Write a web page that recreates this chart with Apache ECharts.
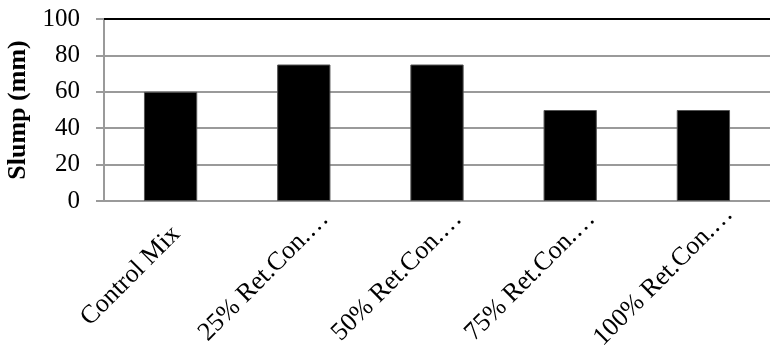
<!DOCTYPE html>
<html>
<head>
<meta charset="utf-8">
<script src="https://cdn.jsdelivr.net/npm/echarts@6/dist/echarts.min.js"></script>
<style>
  html, body { margin: 0; padding: 0; background: #fff; }
  #chart { width: 770px; height: 349px; }
</style>
</head>
<body>
<div id="chart"></div>
<script>
// Slump test results per mix
const categories = ['Control Mix', '25% Ret.Con.\u2026', '50% Ret.Con.\u2026', '75% Ret.Con.\u2026', '100% Ret.Con.\u2026'];
const slumpValues = [60, 75, 75, 50, 50];
const yTicks = { min: 0, max: 100, interval: 20 };

const fontFamily = '"Liberation Serif", "DejaVu Serif", serif';
const chart = echarts.init(document.getElementById('chart'));

chart.setOption({
  animation: false,
  grid: { left: 104, right: 0, top: 19, bottom: 148, containLabel: false, outerBoundsMode: 'none' },
  xAxis: {
    type: 'category',
    data: categories,
    axisLine: { show: true, lineStyle: { color: '#9a9a9a', width: 2 } },
    axisTick: { show: false },
    axisLabel: {
      rotate: 45,
      interval: 0,
      // labels are centred on a point below-left of each category
      align: 'center',
      verticalAlign: 'middle',
      padding: [0, 113, 0, 0],
      margin: 35,
      color: '#000',
      fontFamily: fontFamily,
      fontSize: 26
    }
  },
  yAxis: {
    type: 'value',
    min: yTicks.min,
    max: yTicks.max,
    interval: yTicks.interval,
    name: 'Slump (mm)',
    nameLocation: 'middle',
    nameGap: 71,
    nameTextStyle: { color: '#000', fontFamily: fontFamily, fontSize: 26, fontWeight: 'bold' },
    axisLine: { show: true, lineStyle: { color: '#9a9a9a', width: 2 } },
    axisTick: { show: true, inside: false, length: 8, lineStyle: { color: '#9a9a9a', width: 2 } },
    axisLabel: { color: '#000', fontFamily: fontFamily, fontSize: 25, margin: 24 },
    splitLine: { show: true, lineStyle: { color: '#9a9a9a', width: 2 } }
  },
  series: [{
    type: 'bar',
    data: slumpValues,
    barWidth: '40%',
    itemStyle: { color: '#000', borderColor: '#555', borderWidth: 1 },
    markLine: {
      silent: true,
      symbol: 'none',
      label: { show: false },
      lineStyle: { color: '#000', width: 2, type: 'solid' },
      data: [{ yAxis: yTicks.max }]
    }
  }]
});
</script>
</body>
</html>
